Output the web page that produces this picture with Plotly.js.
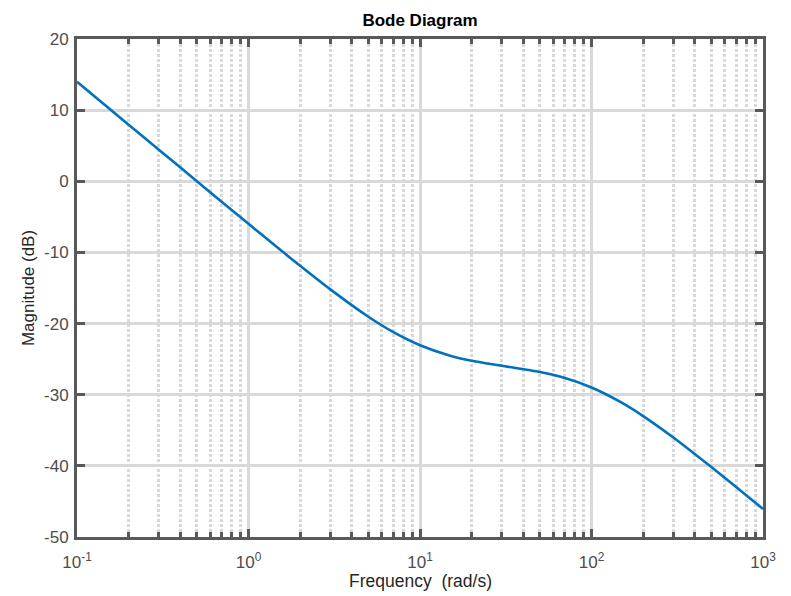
<!DOCTYPE html>
<html>
<head>
<meta charset="utf-8">
<script src="https://cdn.plot.ly/plotly-3.0.1.min.js"></script>
<style>html,body{margin:0;padding:0;background:#fff;}#chart{width:791px;height:596px;}</style>
</head>
<body>
<div id="chart"></div>
<script>
const frequency = [0.1, 0.2, 0.3, 0.5, 0.7, 1, 1.5, 2, 3, 5, 7, 10, 15, 20, 30, 50, 70, 100, 150, 200, 300, 500, 700, 1000];
const magnitudeDb = [13.98, 7.96, 4.44, 0.01, -2.90, -5.98, -9.45, -11.87, -15.19, -19.04, -21.21, -23.05, -24.52, -25.22, -25.93, -26.82, -27.66, -28.99, -31.12, -33.0, -36.01, -40.17, -43.01, -46.06];
const xTickVals = [0.1, 1, 10, 100, 1000];
const xTickText = ['10<sup>-1</sup>', '10<sup>0</sup>', '10<sup>1</sup>', '10<sup>2</sup>', '10<sup>3</sup>'];
const yTickVals = [-50, -40, -30, -20, -10, 0, 10, 20];
const yTickText = ['-50', '-40', '-30', '-20', '-10', '0', '10', '20'];
const minorDigits = [2, 3, 4, 5, 6, 7, 8, 9];
const decades = [0.1, 1, 10, 100];
const xTitle = 'Frequency  (rad/s)';
const yTitle = 'Magnitude (dB)';

const minorVals = [];
decades.forEach(d => minorDigits.forEach(m => minorVals.push(+(d * m).toPrecision(3))));

const frameColor = '#595959';
const gridColor = '#d9d9d9';
const fontFam = 'Liberation Sans, Arial, sans-serif';

const trace = {
  x: frequency, y: magnitudeDb, type: 'scatter', mode: 'lines',
  line: {color: '#0072BD', width: 2.6, shape: 'spline', smoothing: 0.6},
  hoverinfo: 'skip'
};

const layout = {
  width: 791, height: 596,
  margin: {l: 77, r: 28, t: 39, b: 59},
  paper_bgcolor: '#fff', plot_bgcolor: '#fff',
  showlegend: false,
  title: {text: '<b>Bode Diagram</b>', font: {family: fontFam, size: 17, color: '#000'}, x: 0.5, xanchor: 'center', y: 0.967, yanchor: 'middle', xref: 'paper'},
  xaxis: {
    type: 'log', range: [-1, 3],
    tickmode: 'array', tickvals: xTickVals, ticktext: xTickText,
    tickfont: {family: fontFam, size: 17, color: '#4d4d4d'},
    ticklabelstandoff: 8,
    showline: true, linecolor: frameColor, linewidth: 3, mirror: 'allticks',
    ticks: 'inside', ticklen: 8, tickwidth: 3, tickcolor: frameColor,
    showgrid: true, gridcolor: gridColor, gridwidth: 3,
    zeroline: false,
    minor: {tickmode: 'array', tickvals: minorVals, ticks: 'inside', ticklen: 5, tickwidth: 3, tickcolor: frameColor, showgrid: true, gridcolor: gridColor, gridwidth: 3, griddash: '3px,2px'}
  },
  yaxis: {
    range: [-50, 20],
    tickmode: 'array', tickvals: yTickVals, ticktext: yTickText,
    tickfont: {family: fontFam, size: 17, color: '#4d4d4d'},
    ticklabelstandoff: 2,
    showline: true, linecolor: frameColor, linewidth: 3, mirror: 'allticks',
    ticks: 'inside', ticklen: 8, tickwidth: 3, tickcolor: frameColor,
    showgrid: true, gridcolor: gridColor, gridwidth: 3,
    zeroline: false,
    title: {text: yTitle, font: {family: fontFam, size: 17, color: '#262626'}, standoff: 6}
  },
  annotations: [{
    text: xTitle, xref: 'paper', yref: 'paper', x: 0.5, y: -0.089,
    xanchor: 'center', yanchor: 'middle', showarrow: false,
    font: {family: fontFam, size: 17.5, color: '#262626'}
  }]
};

Plotly.newPlot('chart', [trace], layout, {displayModeBar: false, staticPlot: true});
</script>
</body>
</html>
